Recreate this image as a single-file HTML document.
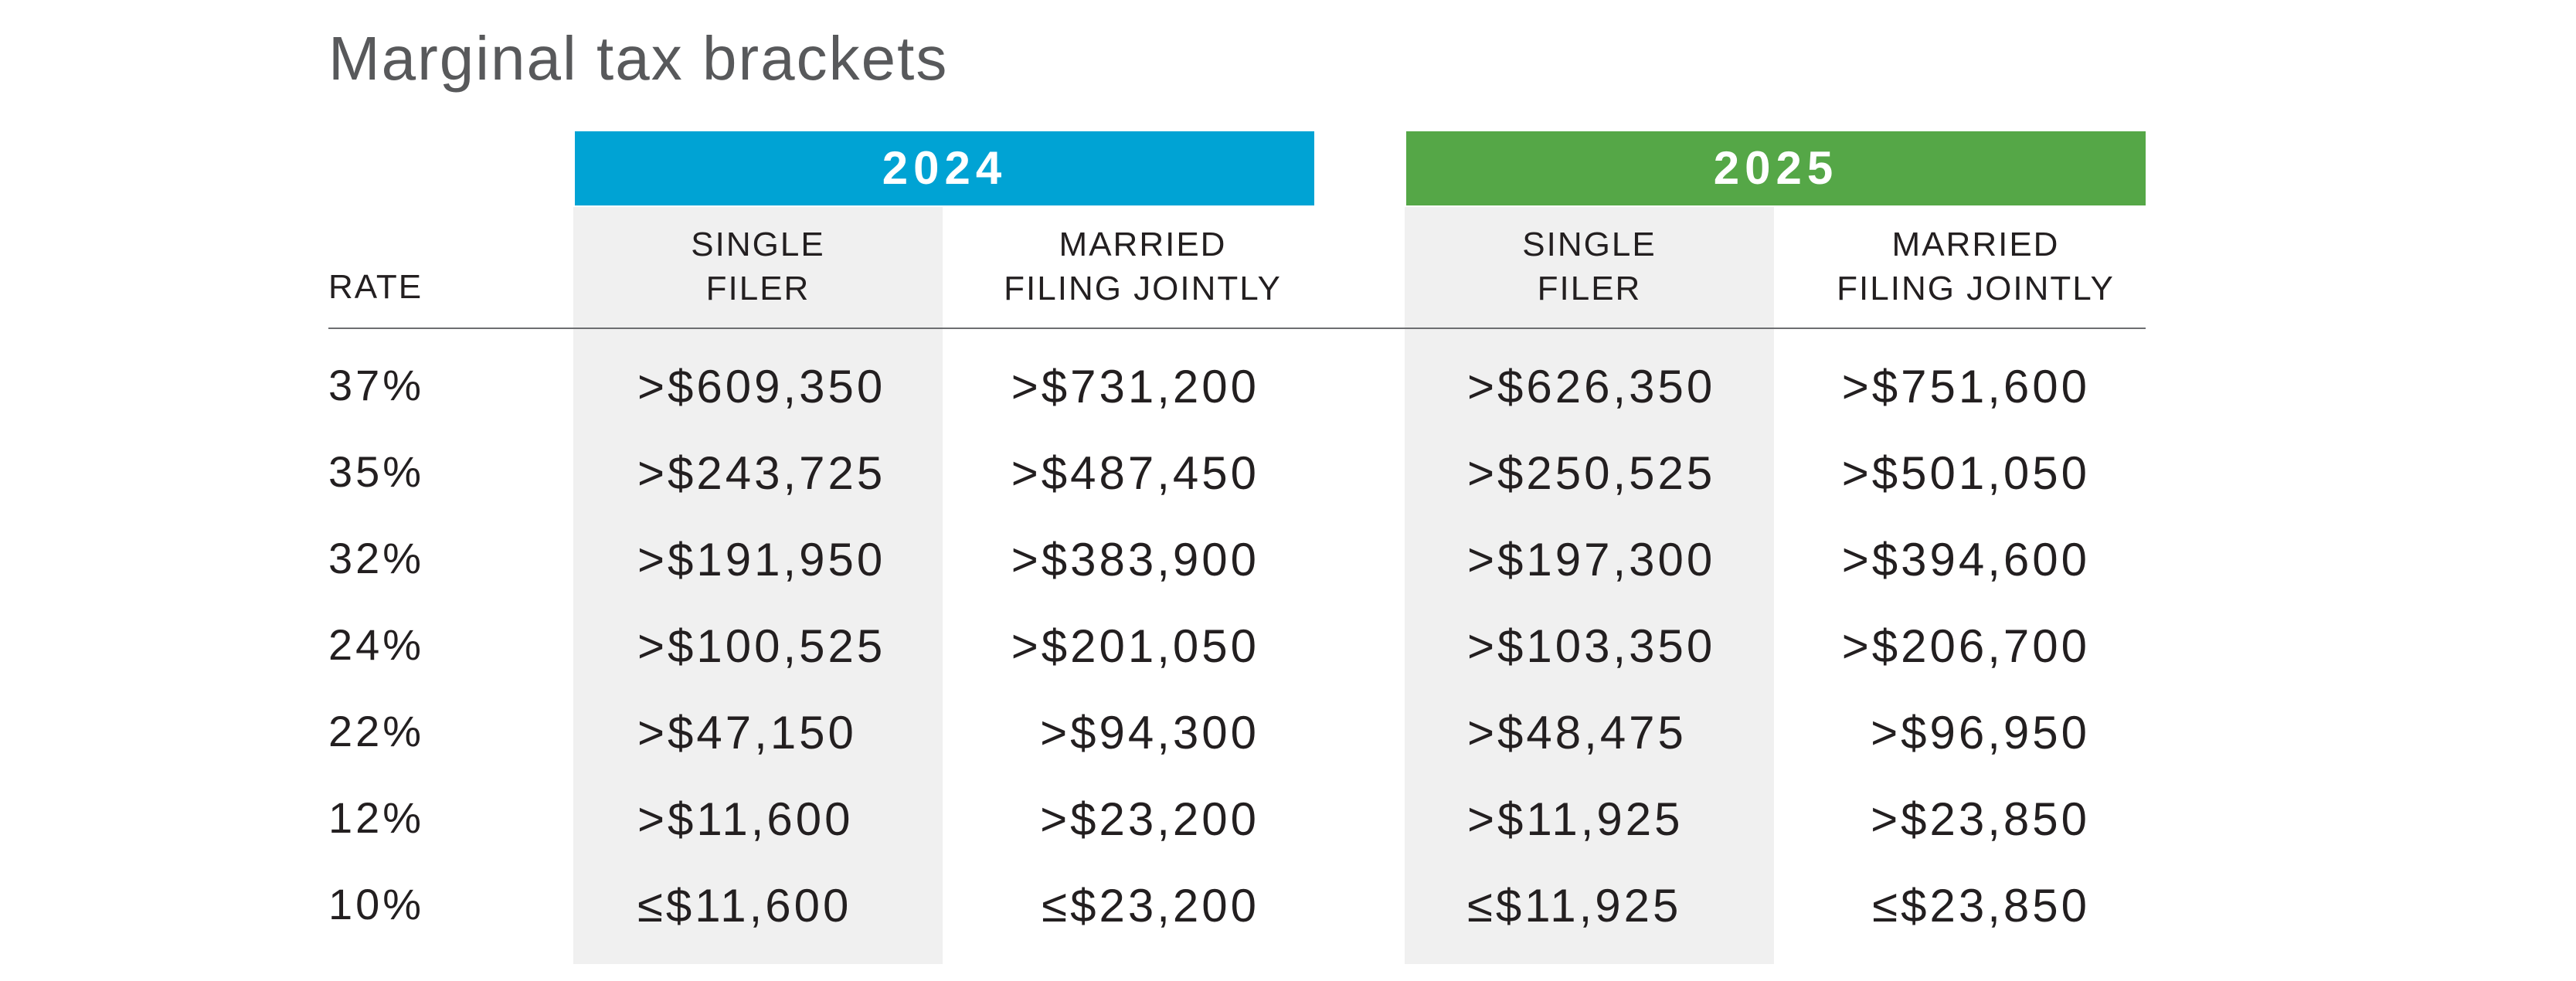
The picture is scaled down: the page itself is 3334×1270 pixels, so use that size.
<!DOCTYPE html>
<html><head><meta charset="utf-8"><style>
body{margin:0;width:3334px;height:1270px;background:#fff;position:relative;overflow:hidden;font-family:"Liberation Sans",sans-serif;color:#231f20}
div{position:absolute;white-space:nowrap}
.t{left:425px;top:30px;font-size:80px;color:#58595b;letter-spacing:2px}
.bar{top:170px;height:96px;color:#fff;font-weight:bold;font-size:60px;letter-spacing:7px;text-align:center;line-height:96px}
.g{top:268px;height:980px;background:#f0f0f0;width:478px}
.h{font-size:44px;text-align:center;line-height:57px;top:288px;width:478px;letter-spacing:2px}
.r{font-size:56px;left:425px;letter-spacing:4px}
.v{font-size:60px;letter-spacing:4px}
.rt{text-align:right;width:600px}
</style></head><body>
<div class="t">Marginal tax brackets</div>
<div class="bar" style="left:744px;width:957px;background:#00a3d4">2024</div>
<div class="bar" style="left:1820px;width:957px;background:#55a747">2025</div>
<div class="g" style="left:742px"></div>
<div class="g" style="left:1818px"></div>
<div style="left:425px;top:424px;width:2352px;height:2px;background:#6d6e71"></div>
<div class="h" style="left:742px">SINGLE<br>FILER</div>
<div class="h" style="left:1240px">MARRIED<br>FILING JOINTLY</div>
<div class="h" style="left:1818px">SINGLE<br>FILER</div>
<div class="h" style="left:2318px">MARRIED<br>FILING JOINTLY</div>
<div style="left:425px;top:347px;font-size:44px;letter-spacing:2px">RATE</div>
<div class="r" style="top:466px">37%</div>
<div class="r" style="top:578px">35%</div>
<div class="r" style="top:690px">32%</div>
<div class="r" style="top:802px">24%</div>
<div class="r" style="top:914px">22%</div>
<div class="r" style="top:1026px">12%</div>
<div class="r" style="top:1138px">10%</div>

<div class="v" style="left:825px;top:466px">&gt;$609,350</div>
<div class="v" style="left:825px;top:578px">&gt;$243,725</div>
<div class="v" style="left:825px;top:690px">&gt;$191,950</div>
<div class="v" style="left:825px;top:802px">&gt;$100,525</div>
<div class="v" style="left:825px;top:914px">&gt;$47,150</div>
<div class="v" style="left:825px;top:1026px">&gt;$11,600</div>
<div class="v" style="left:825px;top:1138px">≤$11,600</div>

<div class="v rt" style="left:1030px;top:466px">&gt;$731,200</div>
<div class="v rt" style="left:1030px;top:578px">&gt;$487,450</div>
<div class="v rt" style="left:1030px;top:690px">&gt;$383,900</div>
<div class="v rt" style="left:1030px;top:802px">&gt;$201,050</div>
<div class="v rt" style="left:1030px;top:914px">&gt;$94,300</div>
<div class="v rt" style="left:1030px;top:1026px">&gt;$23,200</div>
<div class="v rt" style="left:1030px;top:1138px">≤$23,200</div>

<div class="v" style="left:1899px;top:466px">&gt;$626,350</div>
<div class="v" style="left:1899px;top:578px">&gt;$250,525</div>
<div class="v" style="left:1899px;top:690px">&gt;$197,300</div>
<div class="v" style="left:1899px;top:802px">&gt;$103,350</div>
<div class="v" style="left:1899px;top:914px">&gt;$48,475</div>
<div class="v" style="left:1899px;top:1026px">&gt;$11,925</div>
<div class="v" style="left:1899px;top:1138px">≤$11,925</div>

<div class="v rt" style="left:2105px;top:466px">&gt;$751,600</div>
<div class="v rt" style="left:2105px;top:578px">&gt;$501,050</div>
<div class="v rt" style="left:2105px;top:690px">&gt;$394,600</div>
<div class="v rt" style="left:2105px;top:802px">&gt;$206,700</div>
<div class="v rt" style="left:2105px;top:914px">&gt;$96,950</div>
<div class="v rt" style="left:2105px;top:1026px">&gt;$23,850</div>
<div class="v rt" style="left:2105px;top:1138px">≤$23,850</div>
</body></html>
